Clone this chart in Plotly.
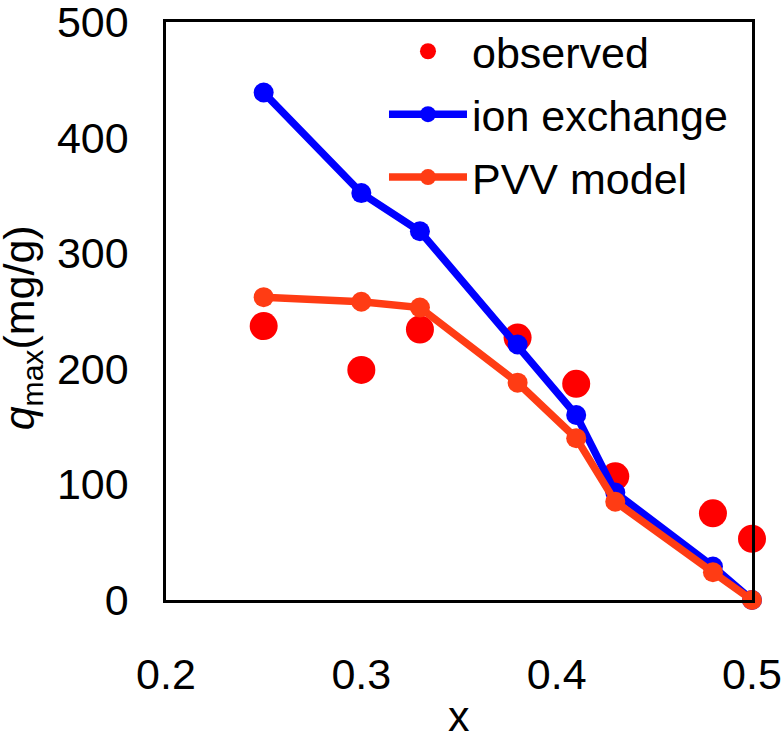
import plotly.graph_objects as go

x_vals = [0.25, 0.30, 0.33, 0.38, 0.41, 0.43, 0.48, 0.50]
observed = [237, 199, 234, 227, 187, 107, 75, 53]
ion_exchange = [439, 352, 319, 221, 160, 93, 29, 0]
pvv_model = [262, 258, 253, 188, 140, 85, 24, 0]

x_ticks = [0.2, 0.3, 0.4, 0.5]
x_tick_labels = ["0.2", "0.3", "0.4", "0.5"]
y_ticks = [0, 100, 200, 300, 400, 500]
y_title = "<i>q</i><sub>max</sub>(mg/g)"
x_title = "x"

FONT = "Arial, Liberation Sans, sans-serif"
FS = 43

fig = go.Figure()
fig.add_trace(go.Scatter(
    x=x_vals, y=observed, mode="markers", name="observed",
    marker=dict(color="#FF0000", size=28), cliponaxis=False, legendgroup="a"))
fig.add_trace(go.Scatter(
    x=x_vals, y=ion_exchange, mode="lines+markers", name="ion exchange",
    line=dict(color="#0000FF", width=7.5), marker=dict(color="#0000FF", size=20),
    cliponaxis=False, legendgroup="b"))
fig.add_trace(go.Scatter(
    x=x_vals, y=pvv_model, mode="lines+markers", name="PVV model",
    line=dict(color="#FF3C14", width=7.5), marker=dict(color="#FF3C14", size=20),
    cliponaxis=False, legendgroup="c"))

fig.update_layout(
    width=784, height=733,
    margin=dict(l=166, r=32, t=22, b=133, autoexpand=False),
    paper_bgcolor="white", plot_bgcolor="white",
    font=dict(family=FONT, size=FS, color="black"),
    showlegend=True,
    legend=dict(x=0.372, y=1.009, xanchor="left", yanchor="top",
                bgcolor="rgba(0,0,0,0)", font=dict(size=FS),
                tracegroupgap=4, itemwidth=78),
    xaxis=dict(range=[0.2, 0.5], tickvals=x_ticks, ticktext=x_tick_labels,
               showgrid=False, zeroline=False, showline=True, linecolor="black",
               linewidth=2.5, mirror=True, ticks="outside", ticklen=35,
               tickcolor="rgba(0,0,0,0)",
               automargin=False, tickfont=dict(size=FS)),
    yaxis=dict(range=[0, 500], tickvals=y_ticks, showgrid=False, zeroline=False,
               showline=True, linecolor="black", linewidth=2.5, mirror=True,
               ticks="outside", ticklen=26, tickcolor="rgba(0,0,0,0)", automargin=False,
               ticklabeloverflow="allow", tickfont=dict(size=FS)),
    annotations=[
        dict(text=y_title, xref="paper", yref="paper",
             x=-0.2457, y=0.47, xanchor="center", yanchor="middle",
             textangle=-90, showarrow=False, font=dict(size=FS)),
        dict(text=x_title, xref="paper", yref="paper",
             x=0.5, y=-0.2007, xanchor="center", yanchor="middle",
             showarrow=False, font=dict(size=FS)),
    ],
)

fig.write_html("out.html", config={"displayModeBar": False},
               post_script="document.body.style.margin='0';document.body.style.overflow='hidden';")
